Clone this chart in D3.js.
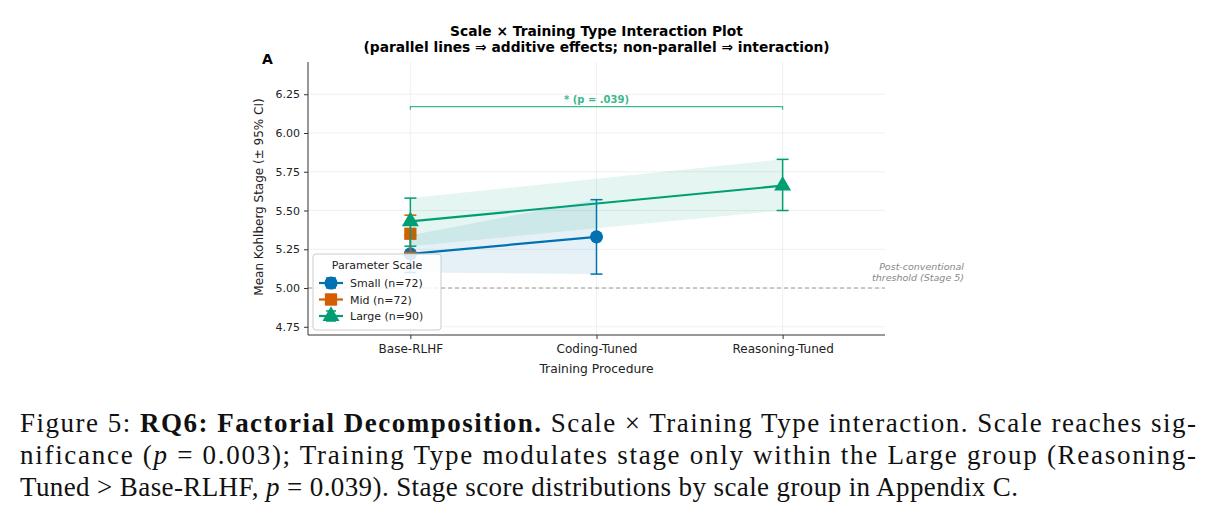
<!DOCTYPE html>
<html>
<head>
<meta charset="utf-8">
<title>Scale x Training Type Interaction</title>
<script src="https://cdnjs.cloudflare.com/ajax/libs/d3/7.8.5/d3.min.js"></script>
<style>
  body { margin: 0; background: #fff; }
  svg text { font-family: "DejaVu Sans", sans-serif; }
</style>
</head>
<body>
<script>
// ---- data ----
var categories = ["Base-RLHF", "Coding-Tuned", "Reasoning-Tuned"];
var groupNames = ["Small", "Mid", "Large"];
var groupN = [72, 72, 90];
var groupColors = ["#0072B2", "#D55E00", "#009E73"];

// null = condition not present for that scale group
var smallMean = [5.22, 5.33, null];
var smallLow  = [5.10, 5.09, null];
var smallHigh = [5.34, 5.57, null];

var midMean = [5.35, null, null];
var midLow  = [5.23, null, null];
var midHigh = [5.47, null, null];

var largeMean = [5.43, null, 5.66];
var largeLow  = [5.27, null, 5.50];
var largeHigh = [5.58, null, 5.83];

var yTicks = [4.75, 5.00, 5.25, 5.50, 5.75, 6.00, 6.25];
var threshold = 5.0;
var sigBracket = { from: 0, to: 2, level: 6.17, label: "* (p = .039)" };

var width = 1219, height = 518;
var pLeft = 308, pRight = 885, pTop = 62, pBottom = 335;

var svg = d3.select("body").append("svg")
    .attr("width", width)
    .attr("height", height);

var x = d3.scaleLinear().domain([-0.55, 2.55]).range([pLeft, pRight]);
var y = d3.scaleLinear().domain([4.697, 6.458]).range([pBottom, pTop]);

// grid
var grid = svg.append("g").attr("stroke", "#ececec").attr("stroke-width", 0.8);
grid.selectAll(".gy").data(yTicks).enter().append("line")
    .attr("x1", pLeft).attr("x2", pRight)
    .attr("y1", d => y(d)).attr("y2", d => y(d));
grid.selectAll(".gx").data(categories).enter().append("line")
    .attr("x1", (d, i) => x(i)).attr("x2", (d, i) => x(i))
    .attr("y1", pTop).attr("y2", pBottom);

// threshold line
svg.append("line")
    .attr("x1", pLeft).attr("x2", pRight)
    .attr("y1", y(threshold)).attr("y2", y(threshold))
    .attr("stroke", "#999").attr("stroke-width", 1)
    .attr("stroke-dasharray", "4,3");
svg.append("text")
    .attr("x", 964).attr("y", y(threshold) - 18)
    .attr("text-anchor", "end").attr("font-size", 9.5).attr("font-style", "italic")
    .attr("fill", "#888")
    .selectAll("tspan").data(["Post-conventional", "threshold (Stage 5)"]).enter()
    .append("tspan").attr("x", 964).attr("dy", (d, i) => i ? 11 : 0).text(d => d);

var series = [
  { mean: smallMean, low: smallLow, high: smallHigh, shape: d3.symbolCircle, size: 135 },
  { mean: midMean, low: midLow, high: midHigh, shape: d3.symbolSquare, size: 150 },
  { mean: largeMean, low: largeLow, high: largeHigh, shape: d3.symbolTriangle, size: 125 }
];

series.forEach(function (s, gi) {
  var col = groupColors[gi];
  var pts = s.mean.map(function (m, i) {
    return { i: i, m: m, lo: s.low[i], hi: s.high[i] };
  }).filter(d => d.m !== null);
  var g = svg.append("g");

  var band = d3.area().x(d => x(d.i)).y0(d => y(d.lo)).y1(d => y(d.hi));
  if (pts.length > 1) {
    g.append("path").attr("d", band(pts))
        .attr("fill", col).attr("fill-opacity", 0.1);
    g.append("path")
        .attr("d", d3.line().x(d => x(d.i)).y(d => y(d.m))(pts))
        .attr("fill", "none").attr("stroke", col).attr("stroke-width", 2.2);
  }
  // error bars
  pts.forEach(function (d) {
    var cx = x(d.i);
    g.append("line").attr("x1", cx).attr("x2", cx)
        .attr("y1", y(d.lo)).attr("y2", y(d.hi))
        .attr("stroke", col).attr("stroke-width", 1.5);
    [d.lo, d.hi].forEach(function (v) {
      g.append("line").attr("x1", cx - 6).attr("x2", cx + 6)
          .attr("y1", y(v)).attr("y2", y(v))
          .attr("stroke", col).attr("stroke-width", 1.5);
    });
  });
  g.selectAll(".pt").data(pts).enter().append("path")
      .attr("d", d3.symbol().type(s.shape).size(s.size))
      .attr("transform", d => "translate(" + x(d.i) + "," + y(d.m) + ")")
      .attr("fill", col);
});

// significance bracket
var bc = "#3cb88c";
var bx1 = x(sigBracket.from), bx2 = x(sigBracket.to), by = y(sigBracket.level);
svg.append("path")
    .attr("d", "M" + bx1 + "," + (by + 3) + "V" + by + "H" + bx2 + "V" + (by + 3))
    .attr("fill", "none").attr("stroke", bc).attr("stroke-width", 1.2);
svg.append("text")
    .attr("x", (bx1 + bx2) / 2).attr("y", by - 4)
    .attr("text-anchor", "middle").attr("font-size", 10).attr("font-weight", "bold")
    .attr("fill", bc).text(sigBracket.label);

// axes
var yAxis = d3.axisLeft(y).tickValues(yTicks).tickFormat(d3.format(".2f")).tickSize(4).tickPadding(4);
var gy = svg.append("g").attr("transform", "translate(" + pLeft + ",0)").call(yAxis);
gy.select(".domain").attr("d", "M0," + pTop + "V" + pBottom);
var xAxis = d3.axisBottom(x).tickValues([0, 1, 2]).tickFormat(i => categories[i]).tickSize(4).tickPadding(5);
var gx = svg.append("g").attr("transform", "translate(0," + pBottom + ")").call(xAxis);
gx.select(".domain").attr("d", "M" + pLeft + ",0H" + pRight);
[gx, gy].forEach(function (g) {
  g.selectAll("text").attr("font-size", 11).attr("fill", "#222")
      .attr("font-family", "DejaVu Sans, sans-serif");
  g.selectAll("line, path").attr("stroke", "#333");
});
gx.selectAll("text").attr("font-size", 12);

svg.append("text")
    .attr("transform", "translate(263,197) rotate(-90)")
    .attr("text-anchor", "middle").attr("font-size", 12).attr("fill", "#222")
    .text("Mean Kohlberg Stage (\u00b1 95% CI)");
svg.append("text")
    .attr("x", (pLeft + pRight) / 2).attr("y", 373)
    .attr("text-anchor", "middle").attr("font-size", 12.3).attr("fill", "#222")
    .text("Training Procedure");

svg.append("text").attr("x", 262).attr("y", 64)
    .attr("font-size", 14).attr("font-weight", "bold").text("A");

// title
svg.append("text").attr("x", (pLeft + pRight) / 2).attr("y", 36)
    .attr("text-anchor", "middle").attr("font-size", 13.8).attr("font-weight", "bold")
    .text("Scale \u00d7 Training Type Interaction Plot");
svg.append("text").attr("x", (pLeft + pRight) / 2).attr("y", 52)
    .attr("text-anchor", "middle").attr("font-size", 13.8).attr("font-weight", "bold")
    .text("(parallel lines \u21d2 additive effects; non-parallel \u21d2 interaction)");

// legend
var lg = svg.append("g").attr("transform", "translate(313,254)");
lg.append("rect").attr("width", 128).attr("height", 76).attr("rx", 3)
    .attr("fill", "#fff").attr("fill-opacity", 0.85)
    .attr("stroke", "#ccc").attr("stroke-width", 1);
lg.append("text").attr("x", 64).attr("y", 15).attr("text-anchor", "middle")
    .attr("font-size", 11).attr("fill", "#222").text("Parameter Scale");
groupNames.forEach(function (name, i) {
  var row = lg.append("g").attr("transform", "translate(0," + (29 + i * 16.5) + ")");
  var col = groupColors[i];
  row.append("line").attr("x1", 6).attr("x2", 30).attr("stroke", col).attr("stroke-width", 2.2);
  row.append("line").attr("x1", 18).attr("x2", 18).attr("y1", -5).attr("y2", 5)
      .attr("stroke", col).attr("stroke-width", 1.5);
  [-5, 5].forEach(function (v) {
    row.append("line").attr("x1", 13).attr("x2", 23).attr("y1", v).attr("y2", v)
        .attr("stroke", col).attr("stroke-width", 1.5);
  });
  row.append("path").attr("transform", "translate(18,0)")
      .attr("d", d3.symbol().type(series[i].shape).size(series[i].size)())
      .attr("fill", col);
  row.append("text").attr("x", 37).attr("y", 4).attr("font-size", 11).attr("fill", "#222")
      .text(name + " (n=" + groupN[i] + ")");
});

// caption
var cap = svg.append("g").attr("font-size", 27).attr("fill", "#111");
function capLine(yPos, len, parts) {
  var t = cap.append("text").attr("x", 20).attr("y", yPos)
      .style("font-family", "Liberation Serif, Times New Roman, serif");
  if (len) t.attr("textLength", len).attr("lengthAdjust", "spacing");
  parts.forEach(function (p) {
    var ts = t.append("tspan").text(p[0]);
    if (p[1] === "b") ts.attr("font-weight", "bold");
    if (p[1] === "i") ts.attr("font-style", "italic");
  });
}
capLine(432, 1176, [["Figure 5: "], ["RQ6: Factorial Decomposition.", "b"],
  [" Scale \u00d7 Training Type interaction. Scale reaches sig-"]]);
capLine(464, 1176, [["nificance ("], ["p", "i"], [" = 0.003); Training Type modulates stage only within the Large group (Reasoning-"]]);
capLine(496, 998, [["Tuned > Base-RLHF, "], ["p", "i"], [" = 0.039). Stage score distributions by scale group in Appendix C."]]);
</script>
</body>
</html>
